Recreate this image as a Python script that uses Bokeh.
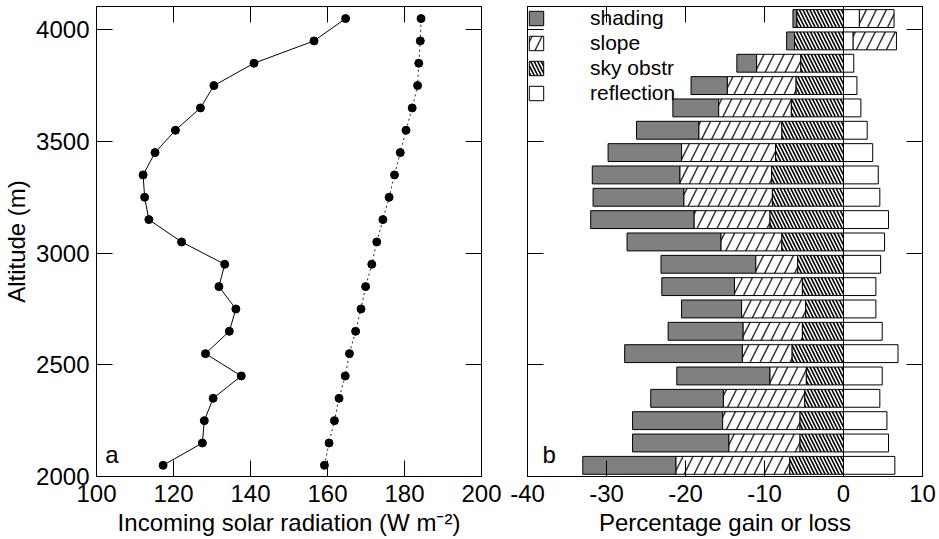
import numpy as np
from bokeh.plotting import figure
from bokeh.layouts import row
from bokeh.models import (LinearAxis, FixedTicker, Range1d, Label, Span,
                          Legend, LegendItem, ColumnDataSource,
                          CustomLabelingPolicy)
from bokeh.embed import file_html
from bokeh.resources import INLINE

# ---- data -------------------------------------------------------------
altitude = [2050, 2150, 2250, 2350, 2450, 2550, 2650, 2750, 2850, 2950, 3050,
            3150, 3250, 3350, 3450, 3550, 3650, 3750, 3850, 3950, 4050]

# incoming solar radiation (W m-2): with topography (solid) and flat (dotted)
rad_topo = [117.3, 127.5, 128.0, 130.3, 137.6, 128.3, 134.5, 136.2, 131.8, 133.3, 122.1,
            113.6, 112.5, 112.1, 115.2, 120.5, 127.0, 130.5, 140.9, 156.5, 164.7]
rad_flat = [159.2, 160.4, 161.8, 163.0, 164.6, 165.7, 167.3, 168.7, 169.9, 171.5, 172.8,
            174.4, 176.0, 177.4, 178.9, 180.4, 182.0, 183.4, 183.7, 184.1, 184.3]

# percentage gain or loss per component
shading = [-11.8, -12.2, -11.4, -9.2, -11.8, -14.9, -9.5, -7.6, -9.2, -12.0, -11.9,
           -13.1, -11.5, -11.1, -9.3, -7.9, -5.8, -4.6, -2.5, -1.0, -0.5]
slope = [-14.4, -9.0, -9.8, -10.3, -4.6, -6.3, -7.5, -8.1, -8.6, -5.3, -7.7,
         -9.6, -11.2, -11.6, -11.9, -10.5, -9.2, -8.7, -5.6, 5.5, 4.4]
sky_obstr = [-6.8, -5.5, -5.5, -4.9, -4.7, -6.5, -5.2, -4.8, -5.2, -5.8, -7.8,
             -9.3, -9.0, -9.1, -8.6, -7.8, -6.6, -6.0, -5.4, -6.2, -5.9]
reflection = [6.5, 5.7, 5.5, 4.6, 4.9, 6.9, 4.9, 4.1, 4.1, 4.7, 5.2,
              5.7, 4.6, 4.4, 3.7, 3.0, 2.2, 1.7, 1.3, 1.2, 2.0]

x_ticks_a = [100, 120, 140, 160, 180, 200]
x_ticks_b = [-40, -30, -20, -10, 0, 10]
x_tick_labels_b = ["-40", "-30", "-20", "-10", "0", "10"]
y_ticks = [2000, 2500, 3000, 3500, 4000]

FONT = "Liberation Sans"
TICK_SIZE = "24px"
LABEL_SIZE = "24px"

# drops every tick label of an axis that only carries tick marks
NO_LABELS = "for (const i of indices) indices.unset(i)\nreturn indices"


def style_axis(ax, ticks, labels=True):
    ax.ticker = FixedTicker(ticks=ticks)
    ax.major_tick_in = 16
    ax.major_tick_out = 0
    ax.minor_tick_line_color = None
    ax.major_tick_line_color = "black"
    ax.axis_line_color = "black"
    ax.major_label_text_font = FONT
    ax.major_label_text_color = "black"
    ax.axis_label_text_font = FONT
    ax.axis_label_text_font_size = LABEL_SIZE
    ax.axis_label_text_font_style = "normal"
    ax.axis_label_text_color = "black"
    if labels:
        ax.major_label_text_font_size = TICK_SIZE
        ax.major_label_standoff = 8
    else:
        ax.major_label_policy = CustomLabelingPolicy(code=NO_LABELS)
        ax.major_label_text_font_size = "0px"
        ax.major_label_standoff = 0


def base_figure(width, x_range, left, right, xticks, ylabels):
    p = figure(width=width, height=539, x_range=x_range,
               y_range=Range1d(2000, 4104), output_backend="svg",
               toolbar_location=None, min_border_left=left,
               min_border_right=right, min_border_top=6, min_border_bottom=63,
               background_fill_color="white", border_fill_color="white",
               x_axis_location=None, y_axis_location=None)
    p.xgrid.visible = False
    p.ygrid.visible = False
    p.outline_line_color = "black"
    p.outline_line_width = 1
    bottom = LinearAxis()
    style_axis(bottom, xticks)
    p.add_layout(bottom, "below")
    left_ax = LinearAxis()
    style_axis(left_ax, y_ticks, labels=ylabels)
    p.add_layout(left_ax, "left")
    top = LinearAxis()
    style_axis(top, xticks, labels=False)
    p.add_layout(top, "above")
    right_ax = LinearAxis()
    style_axis(right_ax, y_ticks, labels=False)
    p.add_layout(right_ax, "right")
    return p, bottom, left_ax


# ---- panel a: radiation profiles --------------------------------------
pa, pa_x, pa_y = base_figure(505, Range1d(100, 200), 94, 24, x_ticks_a, True)
pa_x.axis_label = "Incoming solar radiation (W m\u207b\u00b2)"
pa_y.axis_label = "Altitude (m)"
pa_x.axis_label_standoff = 4
pa_y.axis_label_standoff = 3
pa_y.major_label_standoff = 7

src_a = ColumnDataSource(dict(alt=altitude, topo=rad_topo, flat=rad_flat))
pa.line("flat", "alt", source=src_a, line_color="#222222", line_width=1,
        line_dash="2 3")
pa.scatter("flat", "alt", source=src_a, size=8, color="black")
pa.line("topo", "alt", source=src_a, line_color="black", line_width=1)
pa.scatter("topo", "alt", source=src_a, size=8, color="black")
pa.add_layout(Label(x=102.3, y=2040, text="a", text_font=FONT,
                    text_font_size="24px", text_color="black"))

# ---- panel b: stacked components --------------------------------------
pb, pb_x, pb_y = base_figure(434, Range1d(-40, 10), 22, 17, x_ticks_b, False)
pb_x.axis_label = "Percentage gain or loss"
pb_x.axis_label_standoff = 4
pb_x.major_label_overrides = dict(zip(x_ticks_b, x_tick_labels_b))

sh = np.array(shading)
sl = np.array(slope)
sk = np.array(sky_obstr)
rf = np.array(reflection)
neg_slope = np.minimum(sl, 0)

bar_h = 80
src_b = ColumnDataSource(dict(
    alt=altitude,
    sky_l=sk, sky_r=np.zeros_like(sk),
    sl_l=np.where(sl < 0, sk + sl, rf), sl_r=np.where(sl < 0, sk, rf + sl),
    sh_l=sk + neg_slope + sh, sh_r=sk + neg_slope,
    rf_l=np.zeros_like(rf), rf_r=rf,
))

r_sh = pb.hbar(y="alt", left="sh_l", right="sh_r", height=bar_h, source=src_b,
               fill_color="#808080", line_color="black", line_width=1)
r_sl = pb.hbar(y="alt", left="sl_l", right="sl_r", height=bar_h, source=src_b,
               fill_color="white", line_color="black", line_width=1,
               hatch_pattern="/", hatch_scale=20, hatch_weight=1.5,
               hatch_color="#333333")
r_sk = pb.hbar(y="alt", left="sky_l", right="sky_r", height=bar_h, source=src_b,
               fill_color="white", line_color="black", line_width=1,
               hatch_pattern="\\", hatch_scale=7, hatch_weight=1.6,
               hatch_color="black")
r_rf = pb.hbar(y="alt", left="rf_l", right="rf_r", height=bar_h, source=src_b,
               fill_color="white", line_color="black", line_width=1)

pb.add_layout(Span(location=0, dimension="height", line_color="black",
                   line_width=1))
pb.add_layout(Label(x=-38.1, y=2040, text="b", text_font=FONT,
                    text_font_size="24px", text_color="black"))

legend = Legend(items=[
    LegendItem(label="shading", renderers=[r_sh]),
    LegendItem(label="slope", renderers=[r_sl]),
    LegendItem(label="sky obstr", renderers=[r_sk]),
    LegendItem(label="reflection", renderers=[r_rf]),
], location="top_left")
legend.background_fill_alpha = 0
legend.border_line_color = None
legend.margin = 0
legend.padding = 5
legend.spacing = 1
legend.glyph_width = 18
legend.glyph_height = 18
legend.label_height = 18
legend.label_standoff = 45
legend.label_text_font = FONT
legend.label_text_font_size = "21px"
legend.label_text_line_height = 0.95
legend.label_text_color = "black"
pb.add_layout(legend)

layout = row(pa, pb)
open("out.html", "w").write(file_html(layout, INLINE))
